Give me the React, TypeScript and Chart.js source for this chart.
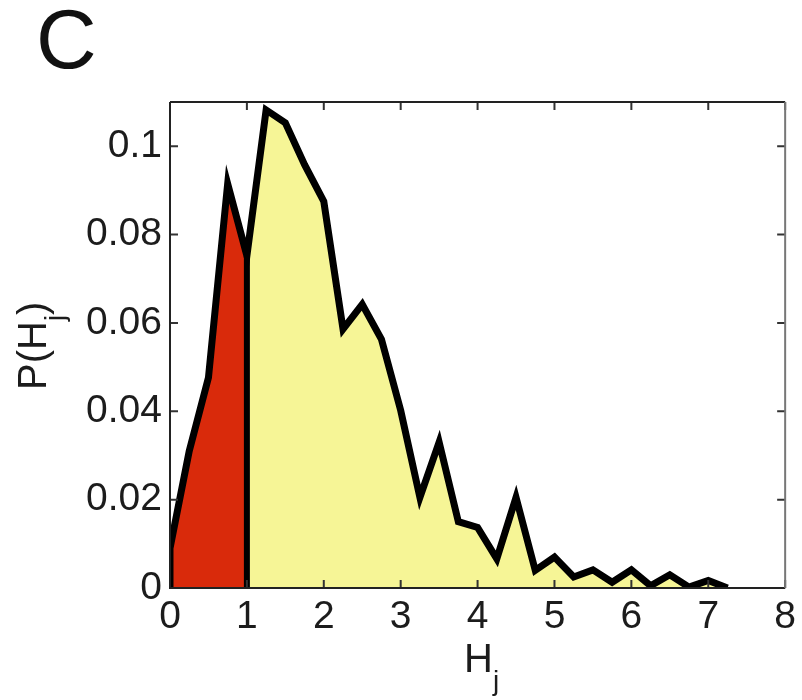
import React, { useEffect, useRef } from 'react';
import { Chart, registerables } from 'chart.js';

Chart.register(...registerables);

// ---- data ----
const hValues = [
  0, 0.25, 0.5, 0.75, 1, 1.25, 1.5, 1.75, 2, 2.25, 2.5, 2.75, 3, 3.25, 3.5,
  3.75, 4, 4.25, 4.5, 4.75, 5, 5.25, 5.5, 5.75, 6, 6.25, 6.5, 6.75, 7, 7.25,
];
const probabilities = [
  0.009, 0.031, 0.0476, 0.0915, 0.0752, 0.1082, 0.1053, 0.0958, 0.0875, 0.0586,
  0.0642, 0.0563, 0.0402, 0.0205, 0.033, 0.015, 0.0137, 0.0066, 0.0205, 0.004,
  0.007, 0.0025, 0.0041, 0.0013, 0.0041, 0.0005, 0.003, 0.0002, 0.0017, 0.0,
];
const splitAt = 1;
const xTickValues = [0, 1, 2, 3, 4, 5, 6, 7, 8];
const yTickValues = [0, 0.02, 0.04, 0.06, 0.08, 0.1];
const panelLabel = 'C';
const xTitleMain = 'H';
const xTitleSub = 'j';
const yTitleMain = 'P(H';
const yTitleSub = 'j';
const yTitleEnd = ')';

const RED = '#d92a0b';
const YELLOW = '#f6f596';
const FONT = "'Liberation Sans', Arial, Helvetica, sans-serif";
const TEXT = '#1c1c1c';

const points = hValues.map((x, i) => ({ x, y: probabilities[i] }));
const redPts = points.filter((p) => p.x <= splitAt);
const yellowPts = points.filter((p) => p.x >= splitAt);
const splitVal = probabilities[hValues.indexOf(splitAt)];
const outlinePts = [{ x: hValues[0], y: 0 }, ...points];
const dividerPts = [
  { x: splitAt, y: 0 },
  { x: splitAt, y: splitVal },
];

const framePlugin = {
  id: 'framePlugin',
  afterDraw(chart: any) {
    const { ctx, chartArea: a, scales } = chart;
    const xs = scales.x;
    const ys = scales.y;
    ctx.save();
    // ticks inward
    ctx.strokeStyle = '#333';
    ctx.lineWidth = 2;
    const tl = 8;
    xTickValues.forEach((v) => {
      const px = xs.getPixelForValue(v);
      ctx.beginPath();
      ctx.moveTo(px, a.top);
      ctx.lineTo(px, a.top + tl);
      ctx.moveTo(px, a.bottom);
      ctx.lineTo(px, a.bottom - tl);
      ctx.stroke();
    });
    yTickValues.forEach((v) => {
      const py = ys.getPixelForValue(v);
      ctx.beginPath();
      ctx.moveTo(a.left, py);
      ctx.lineTo(a.left + tl, py);
      ctx.moveTo(a.right, py);
      ctx.lineTo(a.right - tl, py);
      ctx.stroke();
    });
    // frame
    ctx.lineWidth = 2;
    ctx.strokeStyle = '#222';
    ctx.beginPath();
    ctx.moveTo(a.left, a.top);
    ctx.lineTo(a.right, a.top);
    ctx.moveTo(a.left, a.top);
    ctx.lineTo(a.left, a.bottom);
    ctx.lineTo(a.right, a.bottom);
    ctx.stroke();
    ctx.strokeStyle = '#777';
    ctx.beginPath();
    ctx.moveTo(a.right, a.top);
    ctx.lineTo(a.right, a.bottom);
    ctx.stroke();

    // panel label
    ctx.fillStyle = '#111';
    ctx.textAlign = 'left';
    ctx.textBaseline = 'alphabetic';
    ctx.font = `84px ${FONT}`;
    ctx.fillText(panelLabel, 36, 68);

    // x title
    ctx.fillStyle = TEXT;
    ctx.font = `40px ${FONT}`;
    const hw = ctx.measureText(xTitleMain).width;
    ctx.font = `28px ${FONT}`;
    const jw = ctx.measureText(xTitleSub).width;
    const cx = (a.left + a.right) / 2 + 4;
    const startX = cx - (hw + jw) / 2;
    ctx.font = `40px ${FONT}`;
    ctx.fillText(xTitleMain, startX, 672);
    ctx.font = `28px ${FONT}`;
    ctx.fillText(xTitleSub, startX + hw, 690);

    // y title (rotated)
    ctx.translate(46, 390);
    ctx.rotate(-Math.PI / 2);
    ctx.font = `40px ${FONT}`;
    ctx.fillText(yTitleMain, 0, 0);
    const w1 = ctx.measureText(yTitleMain).width;
    ctx.font = `28px ${FONT}`;
    ctx.fillText(yTitleSub, w1, 18);
    const w2 = ctx.measureText(yTitleSub).width;
    ctx.font = `40px ${FONT}`;
    ctx.fillText(yTitleEnd, w1 + w2, 0);
    ctx.restore();
  },
};

export default function App() {
  const ref = useRef<HTMLCanvasElement | null>(null);
  useEffect(() => {
    document.body.style.margin = '0';
    const canvas = ref.current;
    if (!canvas) return;
    const chart = new Chart(canvas, {
      type: 'line',
      data: {
        datasets: [
          {
            data: outlinePts,
            borderColor: '#000',
            borderWidth: 7,
            borderJoinStyle: 'miter',
            borderCapStyle: 'butt',
            pointRadius: 0,
            fill: false,
            tension: 0,
            order: 0,
          },
          {
            data: dividerPts,
            borderColor: '#000',
            borderWidth: 6,
            pointRadius: 0,
            fill: false,
            order: 1,
          },
          {
            data: redPts,
            borderWidth: 0,
            borderColor: 'rgba(0,0,0,0)',
            backgroundColor: RED,
            pointRadius: 0,
            fill: 'origin',
            order: 2,
          },
          {
            data: yellowPts,
            borderWidth: 0,
            borderColor: 'rgba(0,0,0,0)',
            backgroundColor: YELLOW,
            pointRadius: 0,
            fill: 'origin',
            order: 3,
          },
        ],
      } as any,
      options: {
        responsive: false,
        animation: false,
        events: [],
        layout: { padding: { top: 102, right: 16, left: 0, bottom: 0 } },
        plugins: {
          legend: { display: false },
          tooltip: { enabled: false },
        },
        scales: {
          x: {
            type: 'linear',
            min: 0,
            max: 8,
            grid: { display: false, drawTicks: false },
            border: { display: false },
            afterBuildTicks: (s: any) => {
              s.ticks = xTickValues.map((v) => ({ value: v }));
            },
            afterFit: (s: any) => {
              s.height = 112;
            },
            ticks: {
              autoSkip: false,
              maxRotation: 0,
              padding: 6,
              color: TEXT,
              font: { family: FONT, size: 39 },
              callback: (v: any) => String(v),
            },
          },
          y: {
            type: 'linear',
            min: 0,
            max: 0.11,
            grid: { display: false, drawTicks: false },
            border: { display: false },
            afterBuildTicks: (s: any) => {
              s.ticks = yTickValues.map((v) => ({ value: v }));
            },
            afterFit: (s: any) => {
              s.width = 170;
            },
            ticks: {
              autoSkip: false,
              padding: 8,
              color: TEXT,
              font: { family: FONT, size: 39 },
              callback: (v: any) => String(+Number(v).toFixed(2)),
            },
          },
        },
      } as any,
      plugins: [framePlugin],
    });
    return () => chart.destroy();
  }, []);
  return (
    <div style={{ width: 802, height: 700, background: '#fff' }}>
      <canvas ref={ref} width={802} height={700} style={{ display: 'block' }} />
    </div>
  );
}
